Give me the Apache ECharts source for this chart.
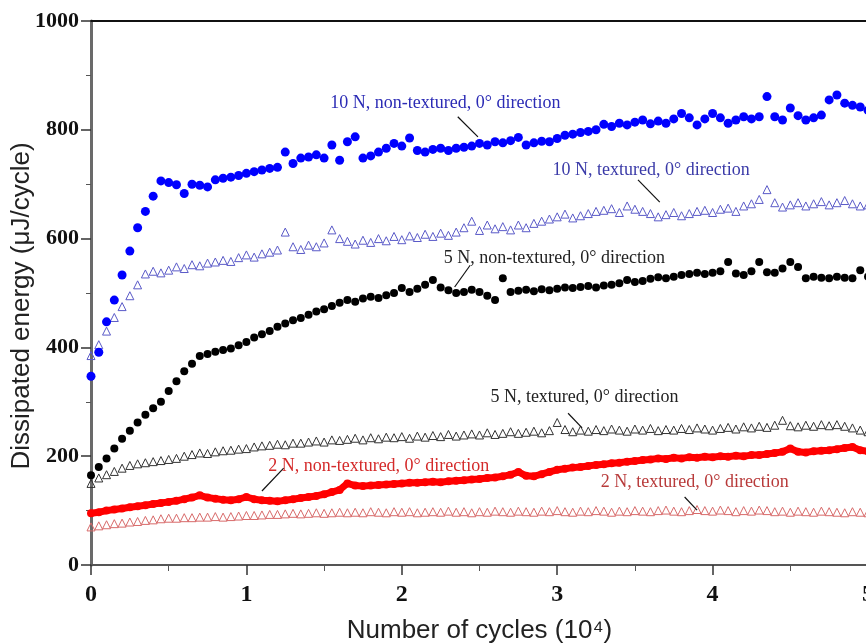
<!DOCTYPE html>
<html>
<head>
<meta charset="utf-8">
<script src="https://cdn.jsdelivr.net/npm/echarts@6/dist/echarts.min.js"></script>
<style>
  html, body { margin: 0; padding: 0; background: #fff; }
  #chart { width: 866px; height: 643px; }
</style>
</head>
<body>
<div id="chart"></div>
<script>
// Number of cycles (x10^4): measurements every 500 cycles
const cycleStep = 0.05;
const cycles = [];
for (let i = 0; i <= 100; i++) cycles.push(Math.round(i * cycleStep * 100) / 100);

// Dissipated energy (uJ/cycle) per test condition
const n10NonTextured = [
  347, 391, 447, 487, 533, 577, 620, 650, 678, 706,
  703, 699, 683, 700, 698, 695, 708, 711, 713, 716,
  720, 723, 726, 729, 731, 759, 738, 748, 750, 754,
  748, 772, 744, 778, 787, 748, 752, 759, 766, 775,
  770, 785, 762, 759, 764, 766, 762, 766, 768, 770,
  775, 772, 778, 776, 780, 786, 772, 776, 779, 778,
  784, 790, 792, 795, 797, 800, 810, 806, 812, 809,
  814, 818, 811, 816, 812, 820, 830, 822, 809, 820,
  830, 822, 812, 818, 824, 820, 824, 861, 824, 818,
  840, 826, 818, 822, 827, 855, 864, 849, 845, 842,
  836
];
const n10Textured = [
  385, 405, 430, 455, 475, 495, 515, 535, 540, 537,
  542, 548, 545, 552, 550, 555, 557, 560, 558, 565,
  570, 566, 572, 575, 579, 612, 585, 580, 588, 585,
  592, 616, 600, 595, 590, 597, 593, 600, 596, 604,
  598, 605, 602, 608, 604, 610, 606, 612, 620, 632,
  615, 625, 618, 622, 616, 625, 620, 628, 632, 636,
  640, 645, 638, 642, 646, 650, 652, 655, 648, 660,
  654, 650, 646, 640, 644, 648, 642, 646, 650, 652,
  648, 654, 656, 650, 660, 664, 672, 690, 666, 658,
  662, 666, 660, 664, 668, 662, 666, 670, 664, 660,
  662
];
const n5NonTextured = [
  165, 180, 196, 214, 232, 247, 262, 276, 288, 300,
  320, 338, 356, 370, 384, 388, 392, 395, 398, 404,
  410, 418, 424, 430, 438, 444, 450, 454, 460, 466,
  470, 476, 482, 487, 484, 490, 493, 491, 496, 500,
  509, 502, 508, 515, 524, 510, 505, 500, 502, 506,
  502, 495, 487, 527, 502, 504, 506, 503, 507, 505,
  508, 510, 509, 511, 513, 510, 514, 515, 518, 524,
  520, 522, 526, 529, 527, 530, 533, 535, 537, 535,
  537, 540, 557, 536, 533, 540, 557, 538, 537, 545,
  557, 548, 527, 530, 528, 527, 530, 528, 527, 542,
  530
];
const n5Textured = [
  150, 160, 166, 172, 178, 183, 186, 188, 190, 192,
  194, 196, 200, 203, 206, 205, 208, 210, 211, 213,
  214, 217, 219, 220, 222, 221, 224, 224, 226, 228,
  226, 230, 229, 231, 233, 230, 234, 232, 235, 234,
  236, 233, 237, 235, 238, 236, 240, 237, 239, 241,
  239, 243, 240, 242, 245, 242, 244, 246, 243, 247,
  262, 249, 245, 248, 246, 249, 247, 250, 248, 246,
  250, 248, 251, 247, 249, 248, 251, 249, 252, 250,
  248, 251, 253, 250, 254, 252, 255, 253, 257, 266,
  256, 254, 257, 255, 258, 256, 258, 255, 252, 248,
  245
];
const n2NonTextured = [
  95, 97, 100, 102, 104, 106, 108, 110, 112, 114,
  116, 118, 121, 124, 128, 124, 122, 120, 119, 121,
  125, 121, 119, 118, 117, 119, 121, 123, 125, 127,
  130, 134, 138, 150, 146, 145, 146, 147, 148, 149,
  150, 151, 151, 152, 153, 152, 154, 155, 156, 157,
  158, 160, 161, 163, 166, 171, 164, 163, 167, 171,
  175, 177, 179, 180, 182, 184, 185, 187, 188, 190,
  191, 193, 194, 196, 195, 197, 196, 198, 197, 199,
  198, 200, 199, 201, 200, 202, 202, 204, 206, 208,
  214, 208, 207, 209, 210, 211, 213, 215, 217, 211,
  209
];
const n2Textured = [
  70, 72, 74, 76, 77, 79, 80, 82, 83, 85,
  86, 86, 87, 87, 88, 88, 89, 88, 89, 90,
  91, 91, 92, 93, 93, 94, 95, 94, 95, 96,
  95, 96, 97, 96, 97, 96, 98, 97, 96, 98,
  97, 98, 96, 97, 98, 97, 99, 97, 98, 96,
  98, 97, 99, 98, 97, 99, 98, 97, 99, 98,
  100, 98, 97, 99, 98, 100, 99, 97, 99, 98,
  100, 99, 98, 100, 101, 99, 98, 100, 102, 100,
  99, 101, 100, 98, 100, 99, 101, 100, 98, 99,
  97, 99, 98, 97, 99, 98, 97, 96, 98, 97,
  96
];

// Axis ticks
const yTicks = [0, 200, 400, 600, 800, 1000];
const xTicks = [0, 1, 2, 3, 4, 5];

// Callout texts: position of the text start and the arrow from/to, in data units
const callouts = {
  n10NonTextured: { text: '10 N, non-textured, 0° direction', at: [1.54, 849], arrow: [[2.36, 824], [2.49, 787]], color: '#2b2bb5' },
  n10Textured:    { text: '10 N, textured, 0° direction',     at: [2.97, 726], arrow: [[3.52, 708], [3.66, 667]], color: '#3a3aa8' },
  n5NonTextured:  { text: '5 N, non-textured, 0° direction',  at: [2.27, 564], arrow: [[2.44, 551], [2.34, 511]], color: '#222222' },
  n5Textured:     { text: '5 N, textured, 0° direction',      at: [2.57, 309], arrow: [[3.07, 279], [3.16, 252]], color: '#222222' },
  n2NonTextured:  { text: '2 N, non-textured, 0° direction',  at: [1.14, 182], arrow: [[1.24, 178], [1.10, 136]], color: '#d42a2a' },
  n2Textured:     { text: '2 N, textured, 0° direction',      at: [3.28, 153], arrow: [[3.82, 125], [3.90, 101]], color: '#b83a3a' }
};

const pairs = vals => cycles.map((c, i) => [c, vals[i]]);

function annotate(key) {
  const c = callouts[key];
  return {
    markPoint: {
      silent: true,
      symbol: 'circle',
      symbolSize: 0,
      data: [{ coord: c.at }],
      label: {
        show: true,
        position: 'right',
        distance: 0,
        formatter: c.text,
        color: c.color,
        fontFamily: 'Liberation Serif',
        fontSize: 18
      }
    },
    markLine: {
      silent: true,
      symbol: ['none', 'arrow'],
      symbolSize: [0, 8],
      label: { show: false },
      lineStyle: { color: '#111', width: 1.2, type: 'solid' },
      data: [[{ coord: c.arrow[0] }, { coord: c.arrow[1] }]]
    }
  };
}

const chart = echarts.init(document.getElementById('chart'), null, { renderer: 'canvas' });

const serifTick = { fontFamily: 'Liberation Serif', fontWeight: 'bold', color: '#111' };

chart.setOption({
  animation: false,
  backgroundColor: '#fff',
  grid: { left: 91, right: -2, top: 21, bottom: 78, containLabel: false, outerBoundsMode: 'none' },
  xAxis: [
    {
      type: 'value',
      min: 0, max: 5, interval: 1,
      name: 'Number of cycles (10⁴)',
      nameLocation: 'middle',
      nameGap: 53,
      nameMoveOverlap: false,
      nameTextStyle: { fontFamily: 'Liberation Sans', fontSize: 26, color: '#222' },
      axisLine: { show: true, onZero: false, lineStyle: { color: '#555', width: 2 } },
      axisTick: { show: true, inside: false, length: 10, lineStyle: { color: '#333', width: 1.5 } },
      minorTick: { show: true, splitNumber: 2, length: 6, lineStyle: { color: '#555', width: 1 } },
      axisLabel: Object.assign({ fontSize: 24, margin: 18, formatter: v => xTicks.includes(v) ? String(v) : '' }, serifTick),
      splitLine: { show: false }
    },
    {
      type: 'value',
      position: 'top',
      min: 0, max: 5,
      axisLine: { show: true, onZero: false, lineStyle: { color: '#111', width: 2 } },
      axisTick: { show: false },
      axisLabel: { show: false },
      splitLine: { show: false }
    }
  ],
  yAxis: {
    type: 'value',
    min: 0, max: 1000, interval: 200,
    name: 'Dissipated energy (μJ/cycle)',
    nameLocation: 'middle',
    nameGap: 56,
    nameMoveOverlap: false,
    nameTextStyle: { fontFamily: 'Liberation Sans', fontSize: 26, color: '#222', padding: [0, 26, 0, 0] },
    axisLine: { show: true, onZero: false, lineStyle: { color: '#6a6a6a', width: 3 } },
    axisTick: { show: true, inside: false, length: 10, lineStyle: { color: '#333', width: 1.5 } },
    minorTick: { show: true, splitNumber: 2, length: 5, lineStyle: { color: '#555', width: 1 } },
    axisLabel: Object.assign({ fontSize: 22, margin: 12, formatter: v => yTicks.includes(v) ? String(v) : '' }, serifTick),
    splitLine: { show: false }
  },
  series: [
    Object.assign({
      name: '2 N, textured',
      type: 'scatter',
      data: pairs(n2Textured),
      symbol: 'triangle',
      symbolSize: 8,
      itemStyle: { color: 'rgba(0,0,0,0)', borderColor: '#d86a6a', borderWidth: 1, opacity: 1 }
    }, annotate('n2Textured')),
    Object.assign({
      name: '2 N, non-textured',
      type: 'line',
      data: pairs(n2NonTextured),
      symbol: 'circle',
      symbolSize: 8,
      showAllSymbol: true,
      lineStyle: { color: '#ff0000', width: 7 },
      itemStyle: { color: '#ff0000', opacity: 1 }
    }, annotate('n2NonTextured')),
    Object.assign({
      name: '5 N, textured',
      type: 'scatter',
      data: pairs(n5Textured),
      symbol: 'triangle',
      symbolSize: 8,
      itemStyle: { color: 'rgba(0,0,0,0)', borderColor: '#333', borderWidth: 1, opacity: 1 }
    }, annotate('n5Textured')),
    Object.assign({
      name: '5 N, non-textured',
      type: 'scatter',
      data: pairs(n5NonTextured),
      symbol: 'circle',
      symbolSize: 8,
      itemStyle: { color: '#000', opacity: 1 }
    }, annotate('n5NonTextured')),
    Object.assign({
      name: '10 N, textured',
      type: 'scatter',
      data: pairs(n10Textured),
      symbol: 'triangle',
      symbolSize: 8,
      itemStyle: { color: 'rgba(0,0,0,0)', borderColor: '#5a5ac8', borderWidth: 1, opacity: 1 }
    }, annotate('n10Textured')),
    Object.assign({
      name: '10 N, non-textured',
      type: 'scatter',
      data: pairs(n10NonTextured),
      symbol: 'circle',
      symbolSize: 9,
      itemStyle: { color: '#0000ff', opacity: 1 }
    }, annotate('n10NonTextured'))
  ]
});
</script>
</body>
</html>
